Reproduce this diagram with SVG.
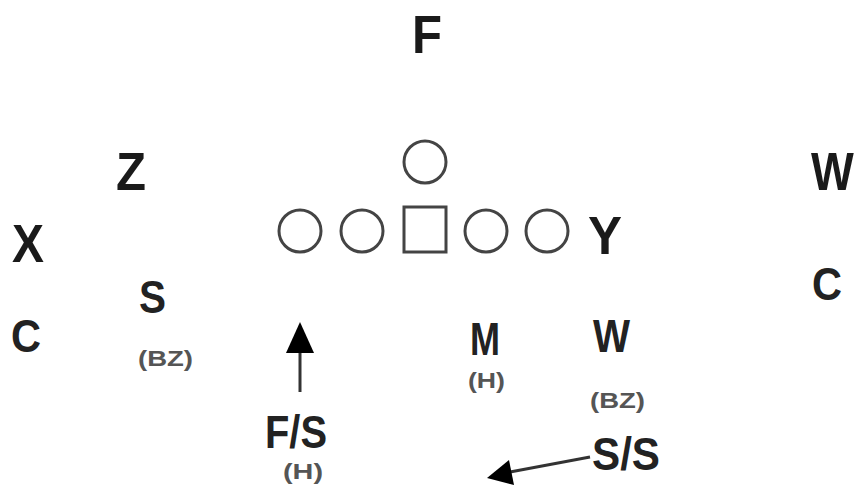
<svg xmlns="http://www.w3.org/2000/svg" width="859" height="486" viewBox="0 0 859 486">
<style>
.big{font-family:"Liberation Sans",Arial,sans-serif;font-weight:bold;font-size:54px;fill:#1a1a1a}
.mid{font-family:"Liberation Sans",Arial,sans-serif;font-weight:bold;font-size:46px;fill:#222}
.sm{font-family:"Liberation Sans",Arial,sans-serif;font-weight:bold;font-size:22px;fill:#555}
.pl{fill:none;stroke:#444;stroke-width:3}
.ln{stroke:#333;stroke-width:3;fill:none}
</style>
<rect width="859" height="486" fill="#fff"/>
<g id="F"><text class="big" x="412" y="53" textLength="30" lengthAdjust="spacingAndGlyphs">F</text></g>
<g id="Z"><text class="big" x="116" y="190" textLength="30" lengthAdjust="spacingAndGlyphs">Z</text></g>
<g id="X"><text class="big" x="12" y="262" textLength="32" lengthAdjust="spacingAndGlyphs">X</text></g>
<g id="Wr"><text class="big" transform="translate(811,190) scale(0.84,1)" x="0" y="0">W</text></g>
<g id="Cr"><text class="mid" x="812" y="300" textLength="30" lengthAdjust="spacingAndGlyphs">C</text></g>
<g id="Cl"><text class="mid" x="11" y="352" textLength="30" lengthAdjust="spacingAndGlyphs">C</text></g>
<g id="S"><text class="mid" x="139" y="313" textLength="27" lengthAdjust="spacingAndGlyphs">S</text><text class="sm" x="138" y="366" textLength="55" lengthAdjust="spacingAndGlyphs">(BZ)</text></g>
<g id="Y"><text class="big" x="588" y="254" textLength="34" lengthAdjust="spacingAndGlyphs">Y</text></g>
<g id="C0"><circle class="pl" cx="425" cy="162" r="21"/></g>
<g id="L1"><circle class="pl" cx="300" cy="231" r="21"/></g>
<g id="L2"><circle class="pl" cx="362" cy="231" r="21"/></g>
<g id="CTR"><rect class="pl" x="404" y="207" width="42" height="45"/></g>
<g id="R1"><circle class="pl" cx="486" cy="231" r="21"/></g>
<g id="R2"><circle class="pl" cx="547" cy="231" r="21"/></g>
<g id="M"><text class="mid" x="470" y="355" textLength="30" lengthAdjust="spacingAndGlyphs">M</text><text class="sm" x="468" y="388" textLength="37" lengthAdjust="spacingAndGlyphs">(H)</text></g>
<g id="W"><text class="mid" x="593" y="352" textLength="37" lengthAdjust="spacingAndGlyphs">W</text><text class="sm" x="590" y="408" textLength="55" lengthAdjust="spacingAndGlyphs">(BZ)</text></g>
<g id="FS"><text class="mid" x="265" y="448" textLength="62" lengthAdjust="spacingAndGlyphs">F/S</text><text class="sm" x="283" y="479" textLength="40" lengthAdjust="spacingAndGlyphs">(H)</text></g>
<g id="SS"><text class="mid" x="592" y="470" textLength="68" lengthAdjust="spacingAndGlyphs">S/S</text></g>
<g id="connectors">
<line class="ln" x1="300" y1="392" x2="300" y2="350"/>
<path d="M300,322 L314,353 L286,353 Z" fill="#000"/>
<line class="ln" x1="590" y1="457" x2="510" y2="472"/>
<path d="M487,478 L509,460 L514,485 Z" fill="#000"/>
</g>
</svg>
